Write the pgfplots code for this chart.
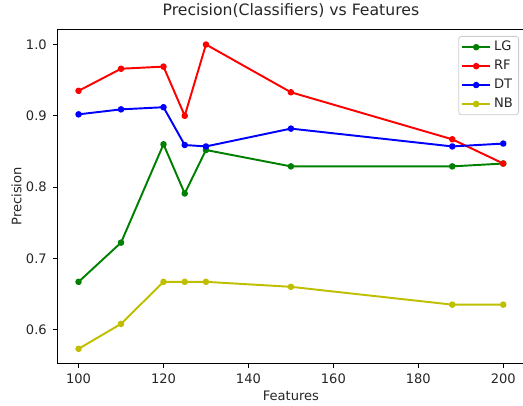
\documentclass[border=0pt]{standalone}
\usepackage{pgfplots}
\pgfplotsset{compat=1.18}
\usepackage{fontspec}
\setmainfont{DejaVu Sans}
\definecolor{mplg}{rgb}{0,0.5,0}
\definecolor{mplr}{rgb}{1,0,0}
\definecolor{mplb}{rgb}{0,0,1}
\definecolor{mply}{rgb}{0.75,0.75,0}
\begin{document}
\begin{tikzpicture}
\begin{axis}[
  scale only axis,
  width=350.4pt, height=250.5pt,
  xmin=95, xmax=205, ymin=0.5527, ymax=1.0213,
  xtick={100,120,140,160,180,200},
  ytick={0.6,0.7,0.8,0.9,1.0},
  yticklabels={0.6,0.7,0.8,0.9,1.0},
  /pgf/number format/assume math mode=true,
  tick align=outside, major tick length=3.4pt,
  tick style={black, line width=0.6pt},
  xtick pos=bottom, ytick pos=left,
  axis line style={line width=0.6pt},
  tick label style={font=\fontsize{9.8}{11}\selectfont, text=black!85},
  xticklabel style={yshift=-1pt},
  yticklabel style={xshift=-1pt},
  label style={font=\fontsize{9.8}{11}\selectfont, text=black!85},
  xlabel={Features},
  ylabel={Precision},
  xlabel style={at={(rel axis cs:0.5,0)}, anchor=center, yshift=-24.2pt},
  ylabel style={at={(rel axis cs:0,0.5)}, anchor=center, yshift=30.6pt},
  title={Precision(Classifiers) vs Features},
  title style={at={(rel axis cs:0.5,1)}, anchor=base, yshift=4.5pt, font=\fontsize{11.75}{14}\selectfont, text=black!85},
  every axis plot/.append style={line width=1.45pt, mark=*, mark size=1.7pt, line join=round},
  legend image code/.code={\draw[mark repeat=2,mark phase=2,#1] plot coordinates {(0pt,0pt) (10.35pt,0pt) (20.7pt,0pt)};},
  legend cell align=left,
  legend style={at={(rel axis cs:1,1)}, anchor=north east, xshift=-4.1pt, yshift=-5pt,
    draw=black!20, rounded corners=2pt, line width=0.6pt,
    font=\fontsize{9.8}{11}\selectfont, text=black!85,
    nodes={text height=7.5pt, text depth=2pt, inner sep=2.35pt},
    inner xsep=2pt, inner ysep=1pt},
]
\addplot[color=mplg, mark options={fill=mplg}] coordinates {(100,0.667) (110,0.722) (120,0.860) (125,0.791) (130,0.852) (150,0.829) (188,0.829) (200,0.833)};
\addlegendentry{LG}
\addplot[color=mplr, mark options={fill=mplr}] coordinates {(100,0.935) (110,0.966) (120,0.969) (125,0.900) (130,1.000) (150,0.933) (188,0.867) (200,0.833)};
\addlegendentry{RF}
\addplot[color=mplb, mark options={fill=mplb}] coordinates {(100,0.902) (110,0.909) (120,0.912) (125,0.859) (130,0.857) (150,0.882) (188,0.857) (200,0.861)};
\addlegendentry{DT}
\addplot[color=mply, mark options={fill=mply}] coordinates {(100,0.573) (110,0.608) (120,0.667) (125,0.667) (130,0.667) (150,0.660) (188,0.635) (200,0.635)};
\addlegendentry{NB}
\coordinate (bl) at (rel axis cs:0,0);
\coordinate (tr) at (rel axis cs:1,1);
\end{axis}
\pgfresetboundingbox
\path[use as bounding box] ([shift={(-43pt,-31.3pt)}]bl) rectangle ([shift={(-1.1pt,22pt)}]tr);
\end{tikzpicture}
\end{document}
